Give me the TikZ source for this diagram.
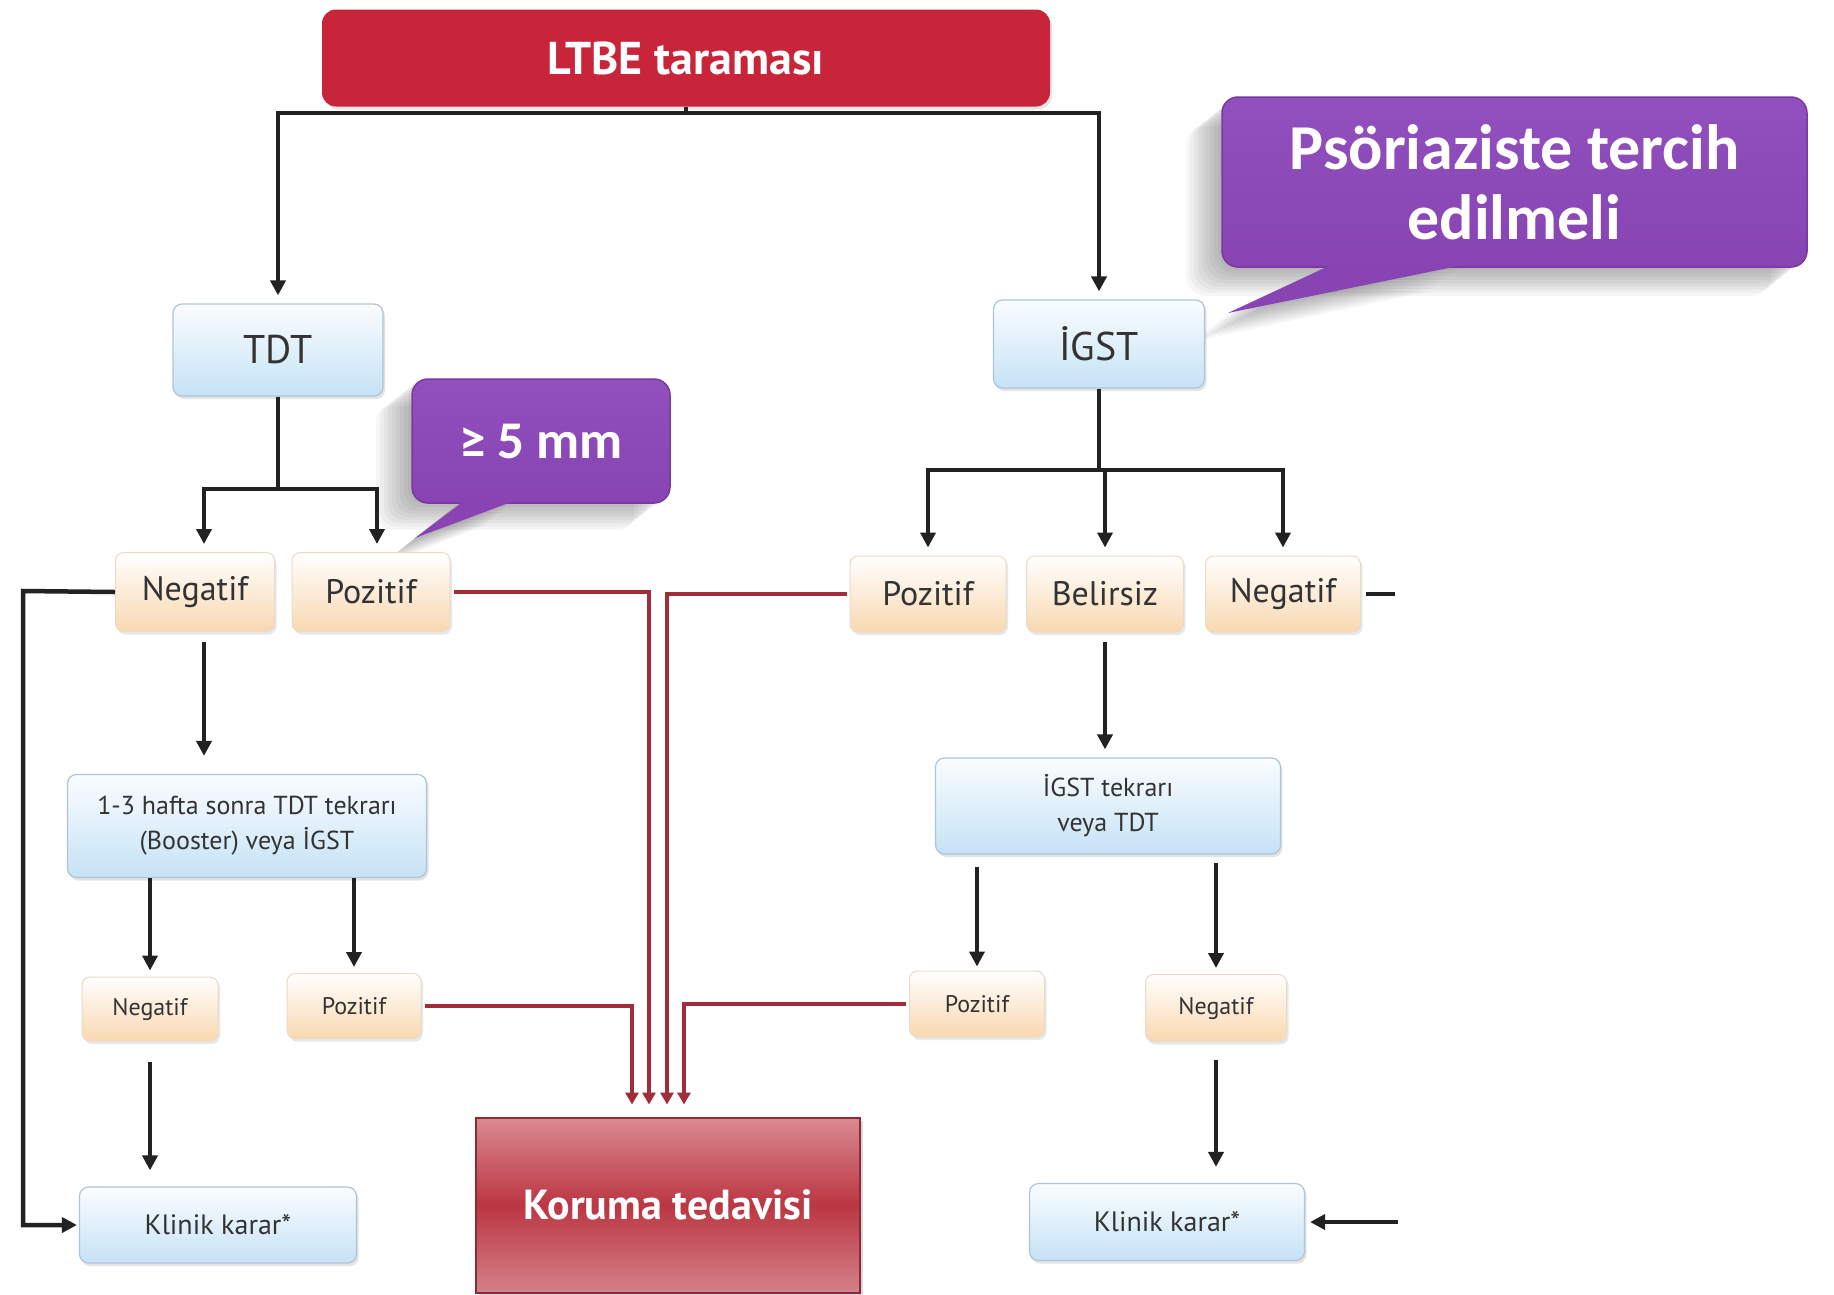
\documentclass[tikz,border=0pt]{standalone}
\usepackage{fontspec}
\setmainfont{PT Sans}
\newfontfamily\callfont{Carlito}
\usetikzlibrary{arrows.meta,shadows}
\definecolor{ltbered}{HTML}{C8253A}
\definecolor{callpurple}{HTML}{8744B2}
\definecolor{callpurpletop}{HTML}{9150BE}
\definecolor{callborder}{HTML}{7A38A2}
\definecolor{bluetop}{HTML}{FAFDFF}
\definecolor{bluebot}{HTML}{C6E2F5}
\definecolor{bluebd}{HTML}{AFC5D6}
\definecolor{peachbot}{HTML}{F9D8B0}
\definecolor{peachbd}{HTML}{EADBC9}
\definecolor{txt}{HTML}{333333}
\definecolor{lineblack}{HTML}{222222}
\definecolor{redline}{HTML}{A02C3C}
\definecolor{korutop}{HTML}{D98A91}
\definecolor{korumid}{HTML}{BB3642}
\definecolor{korubot}{HTML}{D4828A}
\definecolor{korubd}{HTML}{8E2A35}
\begin{document}
\begin{tikzpicture}[x=1pt,y=-1pt,
  base/.style={inner sep=0pt, align=center, text=txt},
  bluebox/.style={base, rounded corners=9pt, draw=bluebd, line width=1.2pt,
    top color=bluetop, bottom color=bluebot,
    drop shadow={shadow xshift=2pt, shadow yshift=-3pt, opacity=0.22}},
  peachbox/.style={base, rounded corners=8pt, draw=peachbd, line width=1pt,
    top color=white, bottom color=peachbot,
    drop shadow={shadow xshift=2pt, shadow yshift=-3pt, opacity=0.18}},
  callout/.style={inner sep=0pt, align=center, text=white, rounded corners=16pt,
    top color=callpurpletop, bottom color=callpurple, draw=callborder, line width=1.5pt},
  conn/.style={draw=lineblack, line width=4.5pt},
  arr/.style={conn, -{Triangle[length=15pt,width=15pt]}, shorten >=8pt},
  redc/.style={draw=redline, line width=4pt},
  redarr/.style={redc, -{Triangle[length=12pt,width=13pt]}, shorten >=12pt, shorten <=3pt},
]
\useasboundingbox[fill=white] (0,0) rectangle (1834,1294);

% ---------- callout shadows ----------
\foreach \s in {4,8,...,36} {
  \fill[black, opacity=0.035, rounded corners=20pt] (1222-\s, 97+0.8*\s) rectangle (1807-\s, 267+0.8*\s);
  \fill[black, opacity=0.035] (1333-\s,262+0.8*\s) -- (1228-\s,313+0.8*\s) -- (1468-\s,262+0.8*\s) -- cycle;
  \fill[black, opacity=0.035, rounded corners=16pt] (412-\s, 377+0.8*\s) rectangle (670-\s, 501+0.8*\s);
  \fill[black, opacity=0.035] (468-\s,496+0.8*\s) -- (415-\s,538+0.8*\s) -- (522-\s,496+0.8*\s) -- cycle;
}

% ---------- nodes ----------
\node[base, minimum width=728pt, minimum height=97pt, rounded corners=14pt,
  fill=ltbered, text=white, font=\bfseries\fontsize{46}{50}\selectfont,
  drop shadow={shadow xshift=2pt, shadow yshift=-3pt, opacity=0.2}]
  (ltbe) at (686,58) {LTBE taraması};

\node[bluebox, minimum width=210pt, minimum height=92pt, font=\fontsize{40}{44}\selectfont]
  (tdt) at (278,350) {TDT};
\node[bluebox, minimum width=211pt, minimum height=88pt, font=\fontsize{40}{44}\selectfont]
  (igst) at (1099,344) {İGST};

\node[callout, minimum width=585pt, minimum height=170pt, font=\callfont\bfseries\fontsize{64}{70}\selectfont]
  (psor) at (1514.5,182) {Psöriaziste tercih\\edilmeli};
\fill[callpurple] (1333,264) -- (1228,313) -- (1468,264) -- cycle;

\node[callout, minimum width=258pt, minimum height=124pt, font=\callfont\bfseries\fontsize{53}{58}\selectfont]
  (mm) at (541,441) {≥ 5 mm};
\fill[callpurple] (468,498) -- (415,538) -- (522,498) -- cycle;

\node[peachbox, minimum width=159pt, minimum height=79pt, font=\fontsize{34}{38}\selectfont]
  (negL) at (195,592) {Negatif};
\node[peachbox, minimum width=158pt, minimum height=79pt, font=\fontsize{34}{38}\selectfont]
  (posL) at (371,592) {Pozitif};
\node[peachbox, minimum width=156pt, minimum height=76pt, font=\fontsize{34}{38}\selectfont]
  (posR) at (928,594) {Pozitif};
\node[peachbox, minimum width=157pt, minimum height=76pt, font=\fontsize{34}{38}\selectfont]
  (bel) at (1105,594) {Belirsiz};
\node[peachbox, minimum width=155pt, minimum height=76pt, font=\fontsize{34}{38}\selectfont]
  (negR) at (1283,594) {Negatif};

\node[bluebox, minimum width=359pt, minimum height=103pt, font=\fontsize{26}{35}\selectfont]
  (boost) at (247,826) {1-3 hafta sonra TDT tekrarı\\(Booster) veya İGST};
\node[bluebox, minimum width=345pt, minimum height=96pt, font=\fontsize{26}{35}\selectfont]
  (igst2) at (1108,806) {İGST tekrarı\\veya TDT};

\node[peachbox, minimum width=136pt, minimum height=64pt, font=\fontsize{24}{28}\selectfont]
  (negS) at (150,1009) {Negatif};
\node[peachbox, minimum width=134pt, minimum height=65pt, font=\fontsize{24}{28}\selectfont]
  (posS) at (354,1006) {Pozitif};
\node[peachbox, minimum width=135pt, minimum height=66pt, font=\fontsize{24}{28}\selectfont]
  (posS2) at (977,1004) {Pozitif};
\node[peachbox, minimum width=141pt, minimum height=67pt, font=\fontsize{24}{28}\selectfont]
  (negS2) at (1216,1008) {Negatif};

\node[bluebox, minimum width=277pt, minimum height=76pt, font=\fontsize{28}{32}\selectfont]
  (klinL) at (218,1225) {Klinik karar*};
\node[bluebox, minimum width=275pt, minimum height=77pt, font=\fontsize{28}{32}\selectfont]
  (klinR) at (1167,1222) {Klinik karar*};

\node[inner sep=0pt, minimum width=384pt, minimum height=175pt, draw=korubd, line width=2pt,
  top color=korutop, bottom color=korubot, middle color=korumid, text=white,
  font=\bfseries\fontsize{42}{46}\selectfont,
  drop shadow={shadow xshift=3pt, shadow yshift=-3pt, opacity=0.3}]
  (koruma) at (668,1205) {Koruma tedavisi};

% ---------- black connectors ----------
\coordinate (j0) at (686,113);
\draw[conn] (ltbe.south) -- (j0);
\draw[arr] (j0) -| (tdt.north);
\draw[arr] (j0) -| (igst.north);

\coordinate (jT) at (278,489);
\draw[conn] (tdt.south) -- (jT);
\draw[arr] (jT) -| ([xshift=9pt]negL.north);
\draw[arr] (jT) -| ([xshift=6pt]posL.north);

\coordinate (jI) at (1099,470);
\draw[conn] (igst.south) -- (jI);
\draw[arr] (jI) -| (posR.north);
\draw[arr] (jI) -| (bel.north);
\draw[arr] (jI) -| (negR.north);

\coordinate (lw) at (23,591);
\draw[arr, shorten >=2pt] (negL.west) -- (lw) |- (klinL.west);

\draw[arr, shorten <=10pt, shorten >=18pt] ([xshift=9pt]negL.south) -- ([xshift=9pt]negL.south |- boost.north);
\draw[arr, shorten >=6pt] (boost.south -| negS.north) -- (negS.north);
\draw[arr, shorten >=6pt] (boost.south -| posS.north) -- (posS.north);
\draw[arr, shorten <=20pt, shorten >=16pt] (negS.south) -- (negS.south |- klinL.north);

\draw[arr, shorten <=9pt, shorten >=8pt] (bel.south) -- (bel.south |- igst2.north);
\draw[arr, shorten <=12pt, shorten >=4pt] (igst2.south -| posS2.north) -- (posS2.north);
\draw[arr, shorten <=8pt, shorten >=6pt] (igst2.south -| negS2.north) -- (negS2.north);
\draw[arr, shorten <=18pt, shorten >=16pt] (negS2.south) -- (negS2.south |- klinR.north);

\coordinate (nrs) at (1395,594);
\draw[conn, shorten <=5pt] (negR.east) -- (nrs);
\coordinate (krs) at (1398,1222);
\draw[arr, shorten >=5pt] (krs) -- (klinR.east);

% ---------- red connectors ----------
\draw[redarr] (posS.east) -| ([xshift=-36pt]koruma.north);
\draw[redarr] (posL.east) -| ([xshift=-19pt]koruma.north);
\draw[redarr] (posR.west) -| ([xshift=-1pt]koruma.north);
\draw[redarr] (posS2.west) -| ([xshift=16pt]koruma.north);
\end{tikzpicture}
\end{document}
